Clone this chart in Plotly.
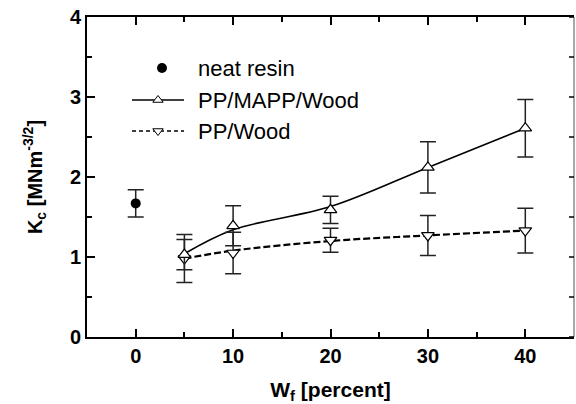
import plotly.graph_objects as go

# ---- data -------------------------------------------------------------
neat_x = [0]
neat_k = [1.67]
neat_err = [0.17]

wf = [5, 10, 20, 30, 40]

mapp_k = [1.03, 1.39, 1.59, 2.12, 2.61]
mapp_err = [0.19, 0.25, 0.17, 0.32, 0.36]
mapp_fit = [1.04, 1.34, 1.63, 2.12, 2.61]

wood_k = [0.98, 1.05, 1.21, 1.27, 1.33]
wood_err = [0.30, 0.26, 0.15, 0.25, 0.28]
wood_fit = [0.98, 1.08, 1.20, 1.27, 1.33]

legend_labels = ["neat resin", "PP/MAPP/Wood", "PP/Wood"]

x_ticks = [0, 10, 20, 30, 40]
y_ticks = [0, 1, 2, 3, 4]

# ---- style ------------------------------------------------------------
FONT = "Liberation Sans, Arial, sans-serif"
INK = "#000000"
ERR = "#222222"
W, H = 576, 404
M = dict(l=87, r=2, t=17, b=67)

fig = go.Figure()

# fitted trend curves
fig.add_trace(go.Scatter(x=wf, y=mapp_fit, mode="lines", line=dict(color=INK, width=1.6, shape="spline"),
                         showlegend=False, hoverinfo="skip"))
fig.add_trace(go.Scatter(x=wf, y=wood_fit, mode="lines",
                         line=dict(color=INK, width=2.2, shape="spline", dash="7px,3px"),
                         showlegend=False, hoverinfo="skip"))

err_style = dict(type="data", thickness=1.5, width=8, color=ERR)

fig.add_trace(go.Scatter(x=wf, y=wood_k, mode="markers",
                         error_y=dict(array=wood_err, **err_style),
                         marker=dict(symbol="triangle-down", size=11, color="white",
                                     line=dict(color=INK, width=1.2)),
                         showlegend=False))
fig.add_trace(go.Scatter(x=wf, y=mapp_k, mode="markers",
                         error_y=dict(array=mapp_err, **err_style),
                         marker=dict(symbol="triangle-up", size=11, color="white",
                                     line=dict(color=INK, width=1.2)),
                         showlegend=False))
fig.add_trace(go.Scatter(x=neat_x, y=neat_k, mode="markers",
                         error_y=dict(array=neat_err, **err_style),
                         marker=dict(symbol="circle", size=10, color=INK),
                         showlegend=False))

# ---- hand-drawn key on a pixel-scaled overlay ---------------------------
px_x = [M["l"], W - M["r"]]
px_y = [H - M["b"], M["t"]]
key_rows = [68, 100, 131]
key_line = (132, 184)
key_mark_x = 158
key_text_x = 196

fig.add_trace(go.Scatter(x=[key_mark_x + 4], y=[key_rows[0]], mode="markers", xaxis="x2", yaxis="y2",
                         marker=dict(symbol="circle", size=10, color=INK),
                         showlegend=False, hoverinfo="skip"))
fig.add_trace(go.Scatter(x=list(key_line), y=[key_rows[1]] * 2, mode="lines", xaxis="x2", yaxis="y2",
                         line=dict(color=INK, width=1.4), showlegend=False, hoverinfo="skip"))
fig.add_trace(go.Scatter(x=list(key_line), y=[key_rows[2]] * 2, mode="lines", xaxis="x2", yaxis="y2",
                         line=dict(color=INK, width=1.4, dash="4px,3px"), showlegend=False, hoverinfo="skip"))
fig.add_trace(go.Scatter(x=[key_mark_x], y=[key_rows[1]], mode="markers", xaxis="x2", yaxis="y2",
                         marker=dict(symbol="triangle-up", size=9, color="white", line=dict(color=INK, width=1)),
                         showlegend=False, hoverinfo="skip"))
fig.add_trace(go.Scatter(x=[key_mark_x], y=[key_rows[2]], mode="markers", xaxis="x2", yaxis="y2",
                         marker=dict(symbol="triangle-down", size=9, color="white", line=dict(color=INK, width=1)),
                         showlegend=False, hoverinfo="skip"))

annotations = []
for row, label in zip(key_rows, legend_labels):
    annotations.append(dict(x=key_text_x, y=row, xref="x2", yref="y2", text=label,
                            showarrow=False, xanchor="left", yanchor="middle",
                            font=dict(family=FONT, size=22, color=INK)))

# thin right-hand frame edge with inward ticks
shapes = [dict(type="line", xref="paper", yref="y", x0=1, x1=1, y0=0, y1=4,
               line=dict(color="#555555", width=1))]
for i in range(9):
    yv = i * 0.5
    shapes.append(dict(type="line", xref="paper", yref="y", x0=1, x1=1 - 5 / (W - M["l"] - M["r"]),
                       y0=yv, y1=yv, line=dict(color=INK, width=1.5)))

fig.update_layout(
    width=W, height=H, margin=M,
    paper_bgcolor="white", plot_bgcolor="white",
    font=dict(family=FONT, color=INK),
    xaxis=dict(range=[-5, 45], tickvals=x_ticks, ticks="inside", ticklen=8, tickwidth=1.5,
               tickcolor=INK, showline=True, linewidth=2, linecolor=INK, mirror="allticks",
               showgrid=False, zeroline=False,
               minor=dict(dtick=5, ticks="inside", ticklen=5, tickwidth=1.5, tickcolor=INK),
               tickfont=dict(family=FONT, size=20, weight="bold"),
               title=dict(text="W<sub>f</sub> [percent]", font=dict(family=FONT, size=21, weight="bold"),
                          standoff=18)),
    yaxis=dict(range=[0, 4], tickvals=y_ticks, ticks="inside", ticklen=8, tickwidth=1.5,
               tickcolor=INK, showline=True, linewidth=2, linecolor=INK, mirror=False,
               showgrid=False, zeroline=False,
               minor=dict(dtick=0.5, ticks="inside", ticklen=5, tickwidth=1.5, tickcolor=INK),
               tickfont=dict(family=FONT, size=20, weight="bold"),
               title=dict(text="K<sub>c</sub> [MNm<sup>-3/2</sup>]",
                          font=dict(family=FONT, size=20, weight="bold"), standoff=22)),
    xaxis2=dict(overlaying="x", range=px_x, visible=False, fixedrange=True),
    yaxis2=dict(overlaying="y", range=px_y, visible=False, fixedrange=True),
    annotations=annotations,
    shapes=shapes,
    showlegend=False,
)

fig.write_html("out.html")
